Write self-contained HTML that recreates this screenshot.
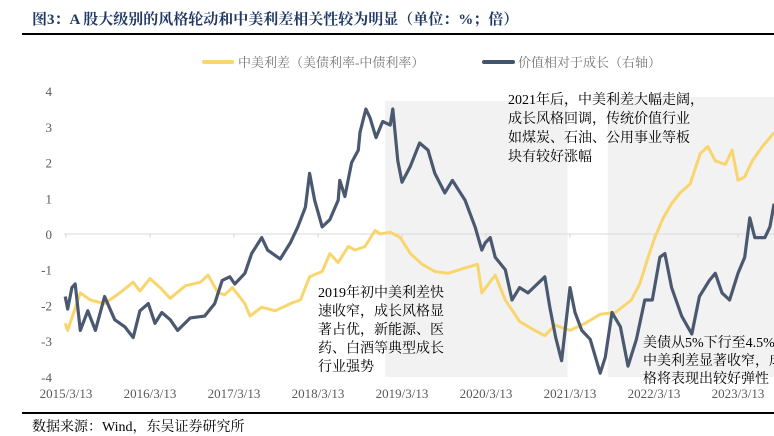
<!DOCTYPE html>
<html><head><meta charset="utf-8">
<style>
html,body{margin:0;padding:0;background:#fff;width:774px;height:436px;overflow:hidden;}
svg{display:block;font-family:"Liberation Serif","Noto Serif CJK SC",serif;}
</style></head>
<body>
<svg id="chart" width="774" height="436" viewBox="0 0 774 436" xmlns="http://www.w3.org/2000/svg">
  <text x="32" y="24" font-size="15" font-weight="bold" fill="#1F3864">图3：A 股大级别的风格轮动和中美利差相关性较为明显（单位：%；倍）</text>
  <rect x="22" y="33" width="752" height="2" fill="#000"/>
  <g>
    <g>
      <rect x="202" y="60" width="32" height="4" rx="2" fill="#F9D56E"/>
      <text x="238" y="67" font-size="13" fill="#777">中美利差（美债利率-中债利率）</text>
    </g>
    <g>
      <rect x="482" y="60" width="33" height="4" rx="2" fill="#44546A"/>
      <text x="518" y="67" font-size="13" fill="#777">价值相对于成长（右轴）</text>
    </g>
  </g>
  <g id="shade"></g>
  <g id="axes"></g>
  <g id="series"></g>
  <g font-size="14" fill="#000">
    <text x="508" y="104">2021年后，中美利差大幅走阔，</text>
    <text x="508" y="123">成长风格回调，传统价值行业</text>
    <text x="508" y="142">如煤炭、石油、公用事业等板</text>
    <text x="508" y="161">块有较好涨幅</text>
  </g>
  <g font-size="14" fill="#000">
    <text x="318" y="297">2019年初中美利差快</text>
    <text x="318" y="315.5">速收窄，成长风格显</text>
    <text x="318" y="334">著占优，新能源、医</text>
    <text x="318" y="352.5">药、白酒等典型成长</text>
    <text x="318" y="371">行业强势</text>
  </g>
  <g font-size="14" fill="#000">
    <text x="643" y="347">美债从5%下行至4.5%，</text>
    <text x="643" y="365">中美利差显著收窄，成长风</text>
    <text x="643" y="383">格将表现出较好弹性</text>
  </g>
  <rect x="22" y="412" width="752" height="2" fill="#000"/>
  <text x="32" y="431" font-size="14" fill="#000">数据来源：Wind，东吴证券研究所</text>
</svg>
<script>
const yTicks = [4,3,2,1,0,-1,-2,-3,-4];
const xTickYears = [2015.2,2016.2,2017.2,2018.2,2019.2,2020.2,2021.2,2022.2,2023.2];
const xTickLabels = ["2015/3/13","2016/3/13","2017/3/13","2018/3/13","2019/3/13","2020/3/13","2021/3/13","2022/3/13","2023/3/13"];
const shadeStart = [2019.0, 2021.65];
const shadeEnd = [2021.17, 2024.0];
const spreadDates = [2015.19,2015.22,2015.37,2015.49,2015.66,2015.84,2016.0,2016.08,2016.2,2016.32,2016.44,2016.62,2016.8,2016.89,2017.01,2017.09,2017.18,2017.33,2017.39,2017.53,2017.69,2017.87,2017.99,2018.10,2018.25,2018.34,2018.44,2018.56,2018.64,2018.76,2018.88,2018.94,2019.06,2019.18,2019.30,2019.44,2019.59,2019.75,2019.95,2020.10,2020.15,2020.31,2020.43,2020.60,2020.78,2020.90,2021.02,2021.20,2021.38,2021.56,2021.74,2021.93,2022.03,2022.13,2022.21,2022.31,2022.41,2022.51,2022.63,2022.75,2022.84,2022.93,2023.05,2023.13,2023.20,2023.28,2023.37,2023.49,2023.58,2023.63];
const spreadValues = [-2.5,-2.7,-1.65,-1.85,-1.95,-1.65,-1.35,-1.6,-1.25,-1.5,-1.8,-1.45,-1.35,-1.15,-1.65,-1.7,-1.5,-1.95,-2.3,-2.05,-2.15,-1.95,-1.85,-1.2,-1.05,-0.55,-0.8,-0.35,-0.45,-0.35,0.1,0.0,0.05,-0.1,-0.55,-0.85,-1.05,-1.1,-0.95,-0.85,-1.65,-1.15,-1.85,-2.45,-2.7,-2.85,-2.55,-2.7,-2.5,-2.25,-2.2,-1.85,-1.4,-0.65,-0.1,0.45,0.85,1.15,1.4,2.25,2.45,2.05,1.95,2.35,1.5,1.6,2.05,2.45,2.7,2.85];
const valueDates = [2015.19,2015.22,2015.27,2015.31,2015.37,2015.46,2015.55,2015.66,2015.78,2015.9,2016.0,2016.08,2016.18,2016.26,2016.34,2016.44,2016.53,2016.68,2016.85,2016.97,2017.06,2017.15,2017.21,2017.33,2017.41,2017.53,2017.6,2017.75,2017.87,2017.96,2018.05,2018.1,2018.16,2018.25,2018.34,2018.44,2018.46,2018.52,2018.6,2018.68,2018.7,2018.77,2018.82,2018.89,2018.97,2019.06,2019.09,2019.15,2019.2,2019.3,2019.41,2019.51,2019.59,2019.71,2019.8,2019.95,2020.07,2020.15,2020.19,2020.25,2020.31,2020.43,2020.51,2020.6,2020.7,2020.9,2020.96,2021.03,2021.1,2021.2,2021.26,2021.34,2021.44,2021.56,2021.62,2021.7,2021.8,2021.89,2021.99,2022.09,2022.18,2022.27,2022.33,2022.41,2022.53,2022.65,2022.74,2022.86,2022.93,2023.01,2023.1,2023.2,2023.28,2023.34,2023.4,2023.52,2023.58,2023.63];
const valueSeries = [-1.75,-2.1,-1.5,-1.4,-2.7,-2.15,-2.7,-1.75,-2.4,-2.6,-2.9,-2.15,-1.95,-2.5,-2.2,-2.4,-2.7,-2.35,-2.3,-1.95,-1.3,-1.2,-1.4,-1.1,-0.55,-0.1,-0.45,-0.7,-0.25,0.2,0.75,1.7,0.95,0.2,0.4,0.95,1.5,1.05,2.0,2.35,2.85,3.5,3.25,2.7,3.15,3.05,3.5,2.05,1.45,1.9,2.55,2.35,1.7,1.15,1.5,0.95,0.2,-0.45,-0.25,-0.1,-0.65,-1.0,-1.85,-1.5,-1.65,-1.2,-2.05,-2.9,-3.55,-1.5,-2.2,-2.7,-2.95,-3.9,-3.45,-2.2,-2.6,-3.7,-2.95,-1.85,-1.85,-0.65,-0.55,-1.5,-2.3,-2.8,-1.75,-1.3,-1.1,-1.65,-1.85,-1.1,-0.65,0.45,-0.1,-0.1,0.2,0.85];

const NS = "http://www.w3.org/2000/svg";
const X0 = 66, PX_PER_YEAR = 84, Y0 = 234, PX_PER_UNIT = 35.7, LEFT = 64, RIGHT = 774, BOTTOM = 377;
function xScale(yr){ return X0 + (yr - 2015.2) * PX_PER_YEAR; }
function yScale(v){ return Y0 - v * PX_PER_UNIT; }
function mk(tag, attrs, parent){ const e = document.createElementNS(NS, tag); for (const k in attrs) e.setAttribute(k, attrs[k]); parent.appendChild(e); return e; }

const shade = document.getElementById('shade');
shadeStart.forEach((s, i) => {
  const x1 = xScale(s), x2 = Math.min(RIGHT, xScale(shadeEnd[i]));
  const top = i === 0 ? 101 : 97;
  const r = mk('rect', {x: x1, y: top, width: x2 - x1, height: BOTTOM - top, fill: '#F2F2F2'}, shade);
  
  
});

const axes = document.getElementById('axes');
const zl = mk('line', {x1: LEFT, x2: RIGHT, y1: yScale(0), y2: yScale(0), stroke: '#D9D9D9', 'stroke-width': 1}, axes);


yTicks.forEach(t => {
  const tx = mk('text', {x: 52, y: yScale(t) + 5, 'text-anchor': 'end', 'font-size': 13, fill: '#595959'}, axes);
  tx.textContent = t;
  
  
});
xTickYears.forEach((yr, i) => {
  const x = xScale(yr);
  const tk = mk('line', {x1: x, x2: x, y1: yScale(0), y2: yScale(0) + 4, stroke: '#D9D9D9'}, axes);
  
  
  const tx = mk('text', {x: x, y: 398, 'text-anchor': 'middle', 'font-size': 13, fill: '#595959'}, axes);
  tx.textContent = xTickLabels[i];
  
  
});

const series = document.getElementById('series');
function path(dates, vals){ return dates.map((d, i) => (i ? 'L' : 'M') + xScale(d).toFixed(1) + ',' + yScale(vals[i]).toFixed(1)).join(' '); }
const p1 = mk('path', {d: path(spreadDates, spreadValues), fill: 'none', stroke: '#F9D56E', 'stroke-width': 3, 'stroke-linejoin': 'round'}, series);


const p2 = mk('path', {d: path(valueDates, valueSeries), fill: 'none', stroke: '#4A5870', 'stroke-width': 3.2, 'stroke-linejoin': 'round'}, series);


</script>
</body></html>
